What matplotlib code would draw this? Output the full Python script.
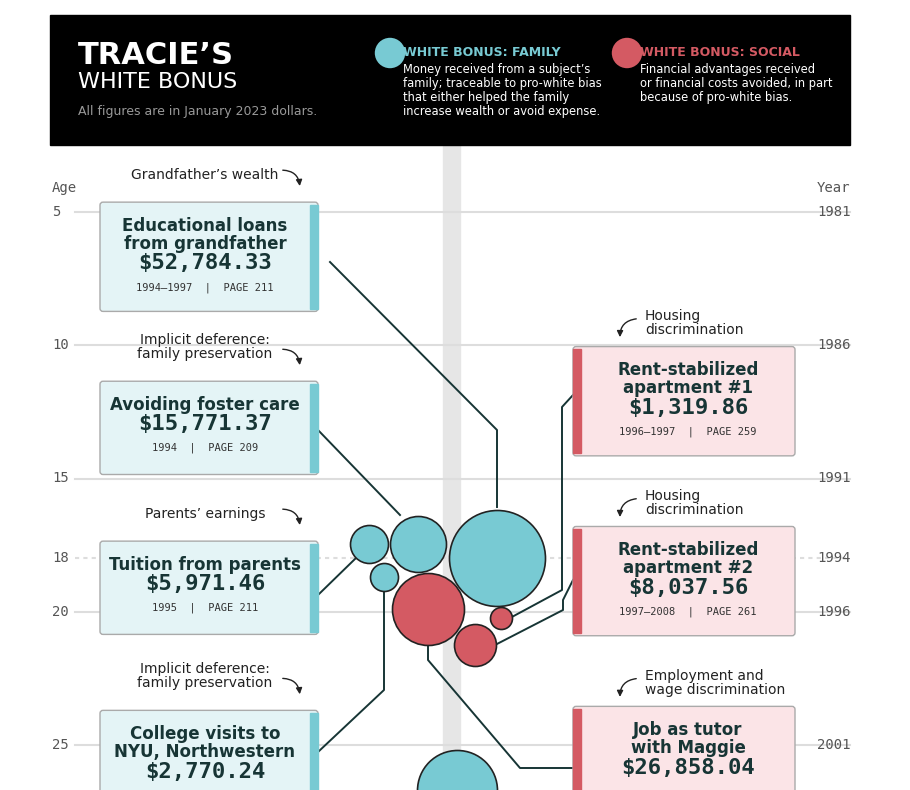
import matplotlib
matplotlib.use("Agg")
import matplotlib.pyplot as plt
from matplotlib.patches import FancyBboxPatch, Rectangle, Circle, FancyArrowPatch

ages = [5, 10, 15, 18, 20, 25]
years = [1981, 1986, 1991, 1994, 1996, 2001]

cards_side = ["L", "L", "L", "L", "R", "R", "R"]
cards_kind = ["family", "family", "family", "family", "social", "social", "social"]
cards_title = ["Educational loans\nfrom grandfather", "Avoiding foster care", "Tuition from parents",
               "College visits to\nNYU, Northwestern", "Rent-stabilized\napartment #1",
               "Rent-stabilized\napartment #2", "Job as tutor\nwith Maggie"]
cards_amount = ["$52,784.33", "$15,771.37", "$5,971.46", "$2,770.24", "$1,319.86", "$8,037.56", "$26,858.04"]
cards_sub = ["1994–1997  |  PAGE 211", "1994  |  PAGE 209", "1995  |  PAGE 211", "",
             "1996–1997  |  PAGE 259", "1997–2008  |  PAGE 261", ""]
cards_note = ["Grandfather’s wealth", "Implicit deference:\nfamily preservation", "Parents’ earnings",
              "Implicit deference:\nfamily preservation", "Housing\ndiscrimination", "Housing\ndiscrimination",
              "Employment and\nwage discrimination"]
cards_top_age = [4.63, 11.35, 17.35, 23.7, 10.05, 16.8, 23.55]
cards_h = [4.1, 3.5, 3.5, 3.5, 4.1, 4.1, 4.1]

bub_kind = ["family", "family", "family", "family", "social", "social", "social", "family"]
bub_x = [497, 418, 369, 384, 428, 501, 475, 457]
bub_age = [18.0, 17.45, 17.45, 18.7, 19.9, 20.25, 21.25, 26.7]
bub_r = [48, 28, 19, 14, 36, 11, 21, 40]

TEAL = "#78cad3"; RED = "#d45a63"; DARK = "#173535"
PPY = 26.65
def ay(p):  # pixel y -> age
    return 5 + (p - 212) / PPY

fig = plt.figure(figsize=(9.1, 7.9), dpi=100)
ax = fig.add_axes([0, 0, 1, 1])
ax.set_xlim(0, 910); ax.set_ylim(ay(790), ay(0)); ax.axis("off")

# vertical band
ax.add_patch(Rectangle((443, ay(145)), 17, ay(790) - ay(145), color="#e6e6e6", zorder=0))
# grid lines
for a, yr in zip(ages, years):
    ls = (0, (2, 2)) if a == 18 else "-"
    ax.plot([75, 850], [a, a], color="#dddddd", lw=1.5, ls=ls, zorder=0)
    ax.text(52, a, str(a), fontsize=10, family="DejaVu Sans Mono", color="#555", va="center")
    ax.text(817, a, str(yr), fontsize=10, family="DejaVu Sans Mono", color="#555", va="center")
ax.text(52, ay(188), "Age", fontsize=10, family="DejaVu Sans Mono", color="#555", va="center")
ax.text(817, ay(188), "Year", fontsize=10, family="DejaVu Sans Mono", color="#555", va="center")

# header
ax.add_patch(Rectangle((50, ay(145)), 800, ay(15) - ay(145), color="black", zorder=3))
ax.text(78, ay(55), "TRACIE’S", fontsize=22, weight="bold", color="white", va="center", zorder=4)
ax.text(78, ay(82), "WHITE BONUS", fontsize=16, color="white", va="center", zorder=4)
ax.text(78, ay(111), "All figures are in January 2023 dollars.", fontsize=9, color="#999", va="center", zorder=4)
for cx, col, ttl, desc in [(390, TEAL, "WHITE BONUS: FAMILY",
                            "Money received from a subject’s\nfamily; traceable to pro-white bias\nthat either helped the family\nincrease wealth or avoid expense."),
                           (627, RED, "WHITE BONUS: SOCIAL",
                            "Financial advantages received\nor financial costs avoided, in part\nbecause of pro-white bias.")]:
    ax.scatter([cx], [ay(53)], s=480, color=col, zorder=4, edgecolors="none")
    ax.text(cx + 13, ay(52), ttl, fontsize=9, weight="bold", color=col, va="center", zorder=4)
    ax.text(cx + 13, ay(63), desc, fontsize=8.3, color="white", va="top", linespacing=1.1, zorder=4)

# connectors
lines = [
    [(330, 262), (497, 430), (497, 507)],
    [(318, 430), (400, 515)],
    [(318, 595), (356, 558)],
    [(318, 752), (384, 690), (384, 588)],
    [(573, 395), (562, 407), (562, 590), (510, 618)],
    [(573, 580), (563, 600), (563, 610), (495, 645)],
    [(573, 768), (520, 768), (428, 660), (428, 642)],
]
for ln in lines:
    ax.plot([p[0] for p in ln], [ay(p[1]) for p in ln], color=DARK, lw=1.4, zorder=1)

# bubbles
for k, x, a, r in zip(bub_kind, bub_x, bub_age, bub_r):
    ax.add_patch(Circle((x, a), 1, transform=ax.transData, alpha=0))
    col = TEAL if k == "family" else RED
    ax.scatter([x], [a], s=(2 * r * 0.72) ** 2, color=col, edgecolors="#222", linewidths=1.2, zorder=2)

# cards
for side, kind, t, am, sub, note, top, h in zip(cards_side, cards_kind, cards_title, cards_amount,
                                                cards_sub, cards_note, cards_top_age, cards_h):
    x0, w = (100, 218) if side == "L" else (573, 222)
    fill = "#e4f4f6" if kind == "family" else "#fbe4e7"
    acc = TEAL if kind == "family" else RED
    ax.add_patch(FancyBboxPatch((x0, top), w, h, boxstyle="round,pad=0,rounding_size=3",
                                fc=fill, ec="#aaa", lw=1, zorder=5, mutation_aspect=1 / PPY))
    ax_x = x0 + w - 8 if side == "L" else x0
    ax.add_patch(Rectangle((ax_x, top + 0.1), 8, h - 0.2, color=acc, zorder=6))
    cx = x0 + w / 2 + (-4 if side == "L" else 4)
    nl = t.count("\n")
    ty = top + 0.55
    ax.text(cx, ty, t, ha="center", va="top", fontsize=12, weight="bold", color=DARK,
            linespacing=1.0, zorder=7)
    ay_am = ty + 0.8 + 0.7 * nl + 0.25
    ax.text(cx, ay_am, am, ha="center", va="center", fontsize=16, weight="bold",
            family="DejaVu Sans Mono", color=DARK, zorder=7)
    if sub:
        ax.text(cx, ay_am + 0.9, sub, ha="center", va="center", fontsize=7.5,
                family="DejaVu Sans Mono", color="#333", zorder=7)
    # note
    nnl = note.count("\n")
    if side == "L":
        nx = 205
        ax.text(nx, top - 0.75, note, ha="center", va="bottom", fontsize=10, color="#222", linespacing=1.0)
        ax.add_patch(FancyArrowPatch((nx + 75, top - 1.2), (nx + 95, top - 0.5),
                                     connectionstyle="arc3,rad=-0.5", arrowstyle="-|>",
                                     mutation_scale=9, color="#222", lw=1))
    else:
        nx = 645
        ax.text(nx, top - 0.35, note, ha="left", va="bottom", fontsize=10, color="#222", linespacing=1.0)
        ax.add_patch(FancyArrowPatch((nx - 6, top - 1.05), (nx - 25, top - 0.25),
                                     connectionstyle="arc3,rad=0.5", arrowstyle="-|>",
                                     mutation_scale=9, color="#222", lw=1))

fig.savefig("out.png", dpi=100, facecolor="white")
